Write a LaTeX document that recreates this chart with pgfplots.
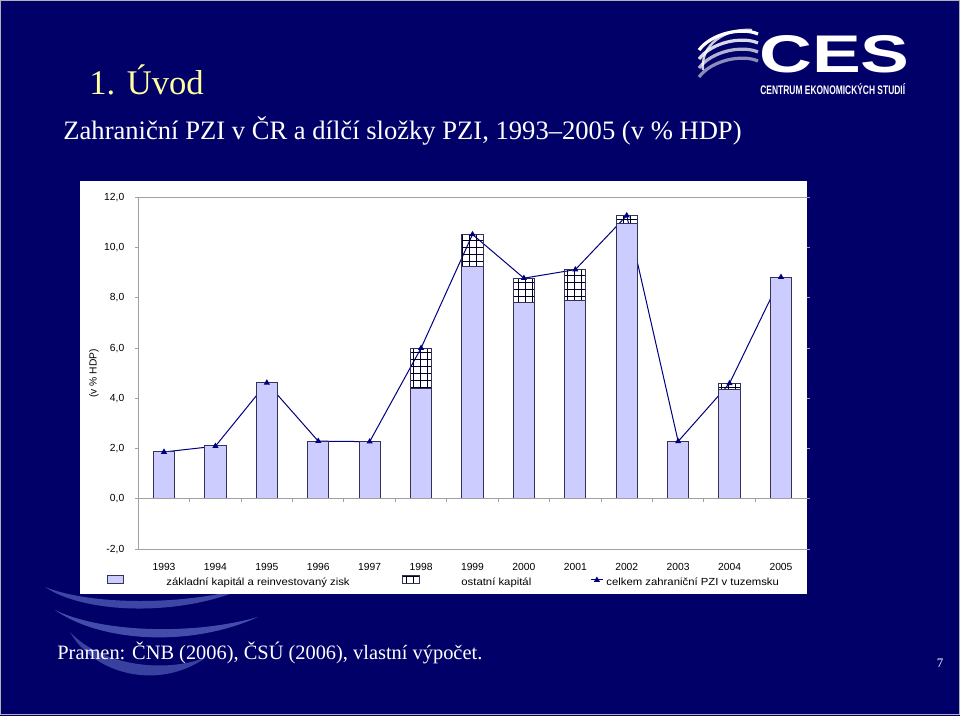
\documentclass[border=0pt]{standalone}
\usepackage{fontspec}
\setmainfont{Liberation Serif}
\newfontfamily\arialf{Liberation Sans}
\usepackage{pgfplots}
\pgfplotsset{compat=1.18}
\usepackage{pgfplotstable}
\usetikzlibrary{patterns}

\definecolor{slidebg}{HTML}{000068}
\definecolor{barfill}{HTML}{CCCCFF}
\definecolor{baredge}{HTML}{33335A}
\definecolor{linenavy}{HTML}{000080}
\definecolor{titleyellow}{HTML}{FFFFA0}
\definecolor{axgray}{HTML}{A0A0A0}
\definecolor{swoosh}{HTML}{7080D8}

\pgfdeclarepatternformonly{cellgrid}{\pgfqpoint{-0.3pt}{-0.3pt}}{\pgfqpoint{3.8pt}{3.8pt}}{\pgfqpoint{3.5pt}{3.5pt}}{%
  \pgfsetlinewidth{0.45pt}%
  \pgfpathmoveto{\pgfqpoint{0pt}{0pt}}\pgfpathlineto{\pgfqpoint{3.5pt}{0pt}}%
  \pgfpathmoveto{\pgfqpoint{0pt}{0pt}}\pgfpathlineto{\pgfqpoint{0pt}{3.5pt}}%
  \pgfusepath{stroke}}

\pgfplotstableread{
x base other total
0 1.87 0 1.87
1 2.12 0 2.10
2 4.64 0 4.62
3 2.30 0 2.30
4 2.28 0 2.28
5 4.38 1.62 6.00
6 9.23 1.29 10.52
7 7.81 0.97 8.78
8 7.88 1.25 9.12
9 10.95 0.32 11.27
10 2.29 0 2.29
11 4.34 0.27 4.60
12 8.82 0 8.82
}\fdi

\newcommand{\chartfont}{\arialf\fontsize{5.15}{6.2}\selectfont}

\begin{document}
\begin{tikzpicture}
\begin{scope}[x=0.5pt,y=-0.5pt]
  \fill[slidebg] (0,0) rectangle (960,716);
  \draw[gray!60, line width=0.6pt] (0.6,0.6) rectangle (959.4,714.4);
  % background swooshes
  \fill[swoosh, opacity=0.55] (45,587) .. controls (85,614) and (180,617) .. (245,588) .. controls (180,606) and (90,605) .. (45,587);
  \fill[swoosh, opacity=0.6] (55,610) .. controls (100,642) and (190,648) .. (258,617) .. controls (190,636) and (100,632) .. (55,610);
  \fill[swoosh, opacity=0.5] (70,632) .. controls (95,676) and (160,690) .. (205,658) .. controls (160,674) and (100,664) .. (70,632);
  % chart box
  \fill[white] (80,181) rectangle (807,594);
  % titles
  \node[anchor=base west, inner sep=0pt, text=titleyellow, font=\fontsize{17.3}{20}\selectfont] at (89,94.3) {1. Úvod};
  \node[anchor=base west, inner sep=0pt, text=white, font=\fontsize{13.3}{16}\selectfont] at (63,140) {Zahraniční PZI v ČR a dílčí složky PZI, 1993–2005 (v \% HDP)};
  \node[anchor=base west, inner sep=0pt, text=white, font=\fontsize{10.2}{12}\selectfont] at (57,660) {Pramen: ČNB (2006), ČSÚ (2006), vlastní výpočet.};
  \node[anchor=base west, inner sep=0pt, text=white, font=\fontsize{6.5}{8}\selectfont] at (936.5,668) {7};
  % logo
  \foreach \i/\op in {0/1,1/0.85,2/0.7,3/0.55}{
    \draw[white, opacity=\op, line width=1.6pt] (699,{50+9*\i}) .. controls (712,{33+9*\i}) and (742,{27+9*\i}) .. (758,{34+9*\i});
  }
  \draw[white, opacity=0.8, line width=1.2pt] (703,70) .. controls (700,45) and (725,28) .. (752,30);
  \node[anchor=base west, inner sep=0pt, text=white, font=\arialf\bfseries\fontsize{26.5}{30}\selectfont] at (759,73) {\scalebox{1.38}[1]{CES}};
  \node[anchor=base west, inner sep=0pt, text=white, font=\arialf\bfseries\fontsize{6.2}{7}\selectfont] at (760,95) {\scalebox{0.68}[1]{CENTRUM EKONOMICKÝCH STUDIÍ}};
\end{scope}

\begin{axis}[
  at={(69.15pt,-274.65pt)}, anchor=south west,
  scale only axis, width=334.2pt, height=176.05pt,
  xmin=-0.5, xmax=12.5, ymin=-2, ymax=12,
  ybar stacked, bar width=10.65pt,
  clip=false,
  axis line style={draw=none},
  xtick={0,...,12},
  xticklabels={1993,1994,1995,1996,1997,1998,1999,2000,2001,2002,2003,2004,2005},
  x tick style={draw=none},
  ytick={-2,0,2,4,6,8,10,12},
  y tick style={axgray, line width=0.5pt},
  tick align=outside, major tick length=1.5pt,
  tick label style={font=\chartfont, text=black},
  xticklabel style={yshift=-2.1pt},
  yticklabel style={xshift=-2.0pt, /pgf/number format/.cd, fixed, fixed zerofill, precision=1, use comma, assume math mode=true},
  ylabel={(v \% HDP)},
  every axis y label/.style={at={(axis description cs:-0.0663,0.5)}, rotate=90, anchor=center, font=\chartfont, text=black},
  legend columns=3,
  legend style={at={(-0.0468,-0.0929)}, anchor=west, draw=none, fill=none, inner sep=0pt,
    font=\chartfont, text=black, nodes={inner sep=0pt}, column sep=0pt},
]
  \draw[axgray, line width=0.5pt] (axis cs:-0.5,-2) -- (axis cs:-0.5,12);
  \draw[axgray, line width=0.5pt] (axis cs:-0.5,12) -- (axis cs:12.5,12);
  \draw[axgray, line width=0.5pt] (axis cs:-0.5,-2) -- (axis cs:12.5,-2);
  \draw[axgray, line width=0.5pt] (axis cs:-0.5,0) -- (axis cs:12.5,0);
  \pgfplotsinvokeforeach{0.5,1.5,...,11.5}{\draw[axgray, line width=0.5pt] (axis cs:#1,0) -- ([yshift=-1.5pt]axis cs:#1,0);}

  \addplot[fill=barfill, draw=baredge, line width=0.5pt,
    legend image code/.code={\draw[fill=barfill, draw=baredge, line width=0.5pt] (0pt,-0.3pt) rectangle (8pt,3.7pt);}]
    table[x=x, y=base]{\fdi};
  \addlegendentry{\makebox[139pt][l]{\hspace{21pt}\scalebox{1.1}[1]{základní kapitál a reinvestovaný zisk}}}

  \addplot[pattern=cellgrid, pattern color=black!85!blue, draw=baredge, line width=0.5pt,
    legend image code/.code={\draw[pattern=cellgrid, pattern color=black!85!blue, draw=baredge, line width=0.5pt] (0pt,-0.3pt) rectangle (8.5pt,3.7pt);}]
    table[x=x, y=other]{\fdi};
  \addlegendentry{\makebox[85pt][l]{\hspace{20.5pt}\scalebox{1.1}[1]{ostatní kapitál}}}

  \addplot[sharp plot, stack plots=false, color=linenavy, line width=0.5pt,
    mark=triangle*, mark size=1.3pt, mark options={solid, fill=linenavy},
    legend image code/.code={\draw[color=linenavy, line width=0.5pt] (0pt,1.7pt) -- (6pt,1.7pt); \fill[linenavy] (3pt,2.9pt) -- (1.9pt,1.0pt) -- (4.1pt,1.0pt) -- cycle;}]
    table[x=x, y=total]{\fdi};
  \addlegendentry{\hspace{1.5pt}\scalebox{1.1}[1]{celkem zahraniční PZI v tuzemsku}}
\end{axis}
\end{tikzpicture}
\end{document}
